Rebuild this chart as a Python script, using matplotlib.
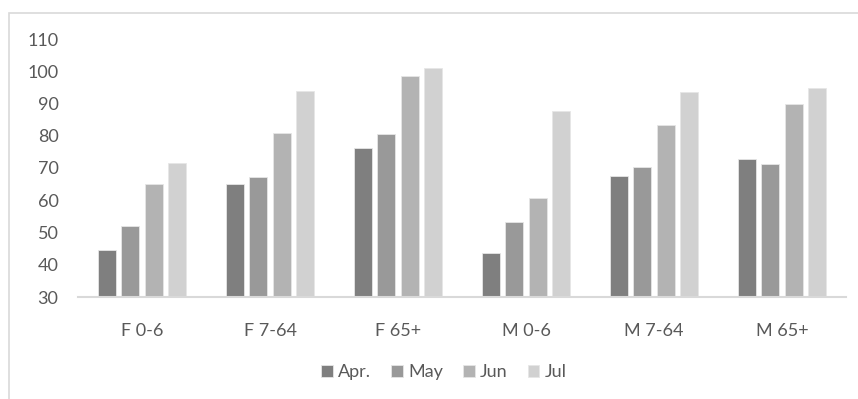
import matplotlib
matplotlib.use("Agg")
import matplotlib.pyplot as plt
from matplotlib.patches import Rectangle
import numpy as np

groups = ["F 0-6", "F 7-64", "F 65+", "M 0-6", "M 7-64", "M 65+"]
months = ["Apr.", "May", "Jun", "Jul"]
apr = [44.6, 65.0, 76.2, 43.5, 67.5, 72.7]
may = [52.1, 67.3, 80.5, 53.3, 70.4, 71.2]
jun = [65.1, 80.8, 98.5, 60.8, 83.3, 89.8]
jul = [71.6, 93.8, 100.9, 87.6, 93.6, 94.7]
series = [apr, may, jun, jul]
colors = ["#7f7f7f", "#999999", "#b3b3b3", "#d1d1d1"]

plt.rcParams["font.family"] = ["Lato", "DejaVu Sans"]
text_col = "#595959"

fig = plt.figure(figsize=(8.58, 3.99), dpi=100)
ax = fig.add_axes([78 / 858, 1 - 297 / 399, (846 - 78) / 858, (297 - 39) / 399])

# chart frame (only top and left edges fall inside the image)
fig.patches.append(Rectangle((9 / 858, -0.1), 1.2, 1 - 13 / 399 + 0.1,
                             transform=fig.transFigure, fill=False,
                             edgecolor="#d9d9d9", linewidth=1.2))

x = np.arange(len(groups))
pitch = 0.182
width = 0.142
for i, (vals, m, c) in enumerate(zip(series, months, colors)):
    ax.bar(x + (i - 1.5) * pitch, np.array(vals) - 30, width, bottom=30,
           color=c, edgecolor="#e6e6e6", linewidth=0.6, label=m)

ax.set_xlim(-0.5, len(groups) - 0.5)
ax.set_ylim(30, 110)
ax.set_yticks(range(30, 111, 10))
ax.set_xticks(x)
ax.set_xticklabels(groups)
for s in ["top", "right", "left"]:
    ax.spines[s].set_visible(False)
ax.spines["bottom"].set_color("#d9d9d9")
ax.spines["bottom"].set_linewidth(1.5)
ax.tick_params(axis="both", length=0, colors=text_col, labelsize=13)
ax.tick_params(axis="y", pad=14)
ax.tick_params(axis="x", pad=19)

leg = fig.legend(loc="center", bbox_to_anchor=(444 / 858, 1 - 372 / 399), ncol=4,
                 frameon=False, fontsize=13, handlelength=0.65, handleheight=0.65,
                 handletextpad=0.3, columnspacing=1.1)
for t in leg.get_texts():
    t.set_color(text_col)

fig.savefig("out.png", dpi=100)
